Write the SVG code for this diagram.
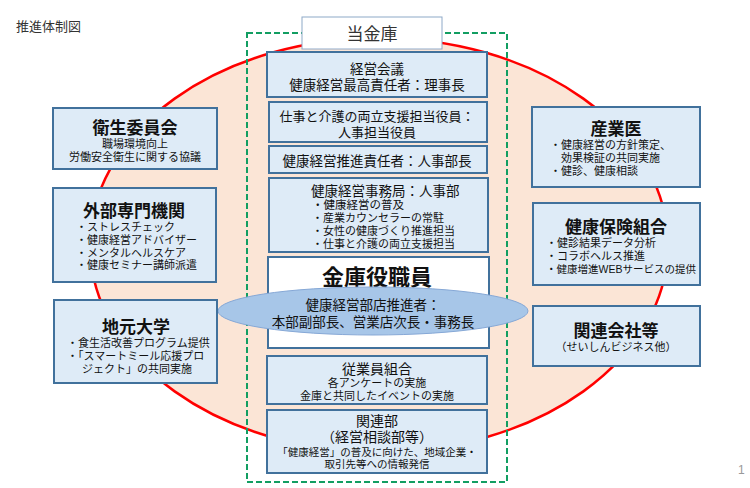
<svg xmlns="http://www.w3.org/2000/svg" width="750" height="488" viewBox="0 0 750 488">
<style>
text{font-family:"Liberation Sans","Noto Sans CJK JP",sans-serif;fill:#111}
.box{fill:#DEEBF7;stroke:#41719C;stroke-width:2}
.wbox{fill:#FFFFFF;stroke:#41719C;stroke-width:2}
.t{font-size:17px;font-weight:bold;text-anchor:middle}
.m{font-size:13.5px;text-anchor:middle}
.s{font-size:11px;text-anchor:start}
.sc{font-size:11px;text-anchor:middle}
</style>
<rect width="750" height="488" fill="#FFFFFF"/>
<text x="16" y="31" style="font-size:13px;fill:#333">推進体制図</text>
<ellipse id="scope" cx="379" cy="245" rx="289" ry="207" fill="#FBE5D6" stroke="#FF0000" stroke-width="2.5"/>
<rect id="kinko-frame" x="247" y="33" width="260" height="449" fill="none" stroke="#129E62" stroke-width="2" stroke-dasharray="6 3"/>
<g id="connectors"/>
<g id="kinko-label">
<rect x="302" y="17" width="140" height="32" fill="#FFFFFF" stroke="#8EA9C8" stroke-width="1"/>
<text x="372" y="40" style="font-size:17px;text-anchor:middle;fill:#333">当金庫</text>
</g>
<g id="keiei-kaigi">
<rect class="box" x="267" y="52" width="220" height="45"/>
<text class="m"><tspan x="377" y="74">経営会議</tspan><tspan x="377" y="90">健康経営最高責任者：理事長</tspan></text>
</g>
<g id="kaigo-yakuin">
<rect class="box" x="269" y="102" width="218" height="40"/>
<text class="m" style="font-size:13px"><tspan x="377" y="121">仕事と介護の両立支援担当役員：</tspan><tspan x="377" y="137">人事担当役員</tspan></text>
</g>
<g id="suishin-sekinin">
<rect class="box" x="269" y="146" width="218" height="27"/>
<text class="m" x="377" y="166">健康経営推進責任者：人事部長</text>
</g>
<g id="jimukyoku">
<rect class="box" x="269" y="178" width="219" height="74"/>
<text style="font-size:11px"><tspan x="311" y="195.5" style="font-size:13.5px">健康経営事務局：人事部</tspan><tspan x="312" y="209" style="font-size:11.5px">・健康経営の普及</tspan><tspan x="312" y="222">・産業カウンセラーの常駐</tspan><tspan x="312" y="235">・女性の健康づくり推進担当</tspan><tspan x="312" y="248">・仕事と介護の両立支援担当</tspan></text>
</g>
<g id="yakushokuin">
<rect class="wbox" x="268" y="257" width="221" height="91"/>
<text x="377" y="285" style="font-size:22px;font-weight:bold;text-anchor:middle">金庫役職員</text>
</g>
<g id="buten-suishinsha">
<ellipse cx="373" cy="311" rx="155" ry="24" fill="#A7C6E8" stroke="#86A8D6" stroke-width="1"/>
<text class="m"><tspan x="373" y="310">健康経営部店推進者：</tspan><tspan x="373" y="327">本部副部長、営業店次長・事務長</tspan></text>
</g>
<g id="kumiai">
<rect class="box" x="267" y="356" width="220" height="48"/>
<text class="sc"><tspan x="377" y="373.5" style="font-size:14px">従業員組合</tspan><tspan x="377" y="387">各アンケートの実施</tspan><tspan x="377" y="399.5">金庫と共同したイベントの実施</tspan></text>
</g>
<g id="kanrenbu">
<rect class="box" x="267" y="410" width="220" height="63"/>
<text class="sc" style="font-size:10.5px"><tspan x="377" y="426" style="font-size:14px">関連部</tspan><tspan x="377" y="442" style="font-size:14px">（経営相談部等）</tspan><tspan x="377" y="456">「健康経営」の普及に向けた、地域企業・</tspan><tspan x="377" y="468">取引先等への情報発信</tspan></text>
</g>
<g id="eisei-iinkai">
<rect class="box" x="53" y="108" width="164" height="61"/>
<text class="sc"><tspan x="135" y="133.5" style="font-size:17px;font-weight:bold">衛生委員会</tspan><tspan x="135" y="148">職場環境向上</tspan><tspan x="135" y="161">労働安全衛生に関する協議</tspan></text>
</g>
<g id="gaibu-kikan">
<rect class="box" x="53" y="188" width="163" height="94"/>
<text class="s"><tspan x="134" y="217" style="font-size:17px;font-weight:bold;text-anchor:middle">外部専門機関</tspan><tspan x="76" y="231">・ストレスチェック</tspan><tspan x="76" y="244">・健康経営アドバイザー</tspan><tspan x="76" y="256.5">・メンタルヘルスケア</tspan><tspan x="76" y="269">・健康セミナー講師派遣</tspan></text>
</g>
<g id="jimoto-daigaku">
<rect class="box" x="54" y="300" width="163" height="83"/>
<text class="s"><tspan x="136" y="333" style="font-size:17px;font-weight:bold;text-anchor:middle">地元大学</tspan><tspan x="67" y="347">・食生活改善プログラム提供</tspan><tspan x="67" y="360">・「スマートミール応援プロ</tspan><tspan x="82" y="372.5">ジェクト」の共同実施</tspan></text>
</g>
<g id="sangyoui">
<rect class="box" x="532" y="107" width="168" height="80"/>
<text class="s"><tspan x="616" y="135" style="font-size:17px;font-weight:bold;text-anchor:middle">産業医</tspan><tspan x="550" y="149">・健康経営の方針策定、</tspan><tspan x="561" y="162">効果検証の共同実施</tspan><tspan x="550" y="175">・健診、健康相談</tspan></text>
</g>
<g id="kenpo-kumiai">
<rect class="box" x="533" y="203" width="167" height="82"/>
<text class="s"><tspan x="616" y="233" style="font-size:17px;font-weight:bold;text-anchor:middle">健康保険組合</tspan><tspan x="546" y="247">・健診結果データ分析</tspan><tspan x="546" y="260">・コラボヘルス推進</tspan><tspan x="546" y="272.5" style="font-size:10.5px">・健康増進WEBサービスの提供</tspan></text>
</g>
<g id="kanren-kaisha">
<rect class="box" x="533" y="306" width="167" height="60"/>
<text class="sc"><tspan x="616" y="336.5" style="font-size:17px;font-weight:bold">関連会社等</tspan><tspan x="616" y="351">（せいしんビジネス他）</tspan></text>
</g>
<text x="738" y="474" style="font-size:12px;fill:#999">1</text>
</svg>
